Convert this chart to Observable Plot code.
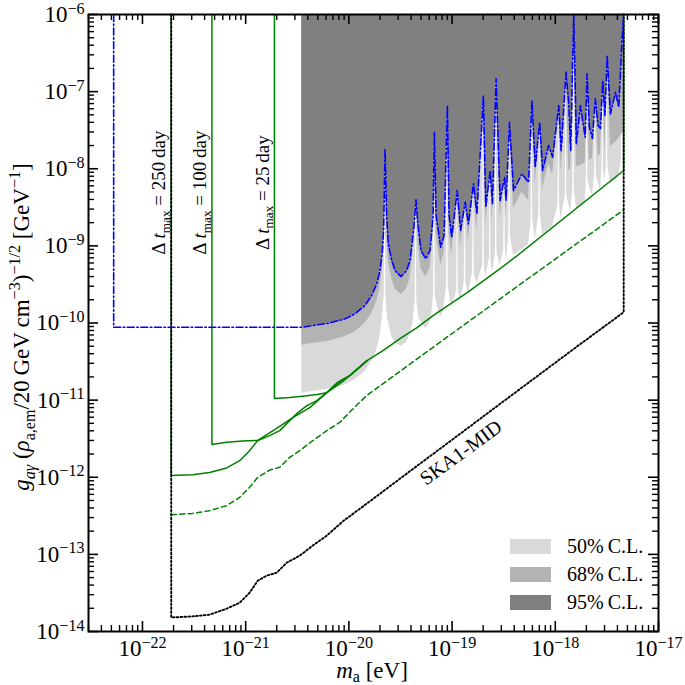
<!DOCTYPE html>
<html>
<head>
<meta charset="utf-8">
<script src="https://cdn.jsdelivr.net/npm/d3@7"></script>
<script src="https://cdn.jsdelivr.net/npm/@observablehq/plot@0.6"></script>
<style>
html, body { margin: 0; padding: 0; background: #fff; }
#chart svg { display: block; }
</style>
</head>
<body>
<div id="chart"></div>
<script>
// ---------------- data ----------------
const xTicks = [1e-22, 1e-21, 1e-20, 1e-19, 1e-18, 1e-17];
const xDecades = [1e-23, 1e-22, 1e-21, 1e-20, 1e-19, 1e-18];
const yTicks = [1e-14, 1e-13, 1e-12, 1e-11, 1e-10, 1e-9, 1e-8, 1e-7, 1e-6];
const minorMultipliers = [2, 3, 4, 5, 6, 7, 8, 9];
const gTop = 1e-6;

// blue dash-dot (95% C.L. boundary), leading vertical + horizontal part
const blueLeadMass = [5.26e-23, 5.26e-23];
const blueLeadG = [1e-6, 8.79e-11];

// 95% / 68% lower boundaries on shared masses
const bandMass = [3.50e-21, 4.35e-21, 6.30e-21, 9.14e-21, 1.14e-20, 1.43e-20, 1.66e-20, 1.86e-20, 2.00e-20, 2.10e-20,
  2.17e-20, 2.20e-20, 2.24e-20, 2.32e-20, 2.41e-20, 2.60e-20, 2.80e-20, 3.20e-20, 3.63e-20, 3.91e-20,
  4.28e-20, 4.47e-20, 4.68e-20, 5.00e-20, 5.56e-20, 6.11e-20, 6.55e-20, 6.73e-20, 7.00e-20, 7.76e-20,
  8.36e-20, 9.00e-20, 9.35e-20, 9.93e-20, 1.12e-19, 1.21e-19, 1.34e-19, 1.44e-19, 1.61e-19, 1.74e-19,
  2.01e-19, 2.12e-19, 2.34e-19, 2.46e-19, 2.67e-19, 2.92e-19, 3.22e-19, 3.34e-19, 3.60e-19, 3.94e-19,
  4.75e-19, 5.51e-19, 5.94e-19, 6.40e-19, 7.05e-19, 7.54e-19, 8.61e-19, 9.42e-19, 1.08e-18, 1.14e-18,
  1.27e-18, 1.35e-18, 1.41e-18, 1.51e-18, 1.60e-18, 1.75e-18, 1.95e-18, 2.03e-18, 2.14e-18, 2.29e-18,
  2.44e-18, 2.60e-18, 2.74e-18, 2.88e-18, 3.03e-18, 3.18e-18, 3.42e-18, 3.83e-18, 4.12e-18, 4.45e-18,
  4.60e-18];
const g95 = [8.79e-11, 9.25e-11, 9.91e-11, 1.13e-10, 1.31e-10, 1.68e-10, 2.27e-10, 3.21e-10, 4.79e-10, 7.87e-10,
  1.58e-9, 4.27e-9, 1.81e-8, 2.60e-9, 1.06e-9, 6.44e-10, 4.79e-10, 4.00e-10, 4.79e-10, 6.44e-10,
  1.83e-9, 3.95e-9, 1.83e-9, 8.69e-10, 6.78e-10, 8.69e-10, 2.47e-9, 2.97e-8, 2.47e-9, 9.59e-10,
  1.36e-9, 6.61e-8, 2.47e-9, 1.29e-9, 5.21e-9, 1.58e-9, 3.68e-9, 1.93e-9, 6.37e-9, 2.60e-9,
  8.89e-8, 3.17e-9, 9.48e-9, 3.51e-9, 1.47e-7, 3.87e-9, 7.76e-9, 3.87e-9, 4.01e-8, 5.21e-9,
  8.59e-9, 6.68e-9, 7.67e-8, 1.04e-8, 4.01e-8, 9.48e-9, 2.00e-8, 1.41e-8, 6.61e-8, 1.72e-8,
  1.79e-7, 6.95e-8, 1.72e-8, 1e-6, 2.10e-8, 6.61e-8, 2.56e-8, 1.70e-7, 3.45e-8, 2.47e-8,
  8.07e-8, 3.63e-8, 3.32e-8, 1.39e-7, 4.90e-8, 2.94e-7, 5.15e-8, 9.82e-8, 6.28e-8, 5.08e-7,
  1e-6];
const g68 = [5.14e-11, 5.41e-11, 5.79e-11, 6.61e-11, 7.67e-11, 9.82e-11, 1.32e-10, 1.88e-10, 2.79e-10, 4.60e-10,
  9.23e-10, 2.49e-9, 1.81e-8, 1.52e-9, 6.19e-10, 3.77e-10, 2.79e-10, 2.34e-10, 2.79e-10, 3.77e-10,
  1.07e-9, 3.95e-9, 1.07e-9, 5.08e-10, 3.96e-10, 5.08e-10, 1.44e-9, 2.97e-8, 1.44e-9, 5.60e-10,
  7.94e-10, 6.61e-8, 1.44e-9, 7.55e-10, 5.21e-9, 9.23e-10, 3.68e-9, 1.13e-9, 6.37e-9, 1.52e-9,
  8.89e-8, 1.85e-9, 9.48e-9, 2.05e-9, 1.47e-7, 2.26e-9, 7.76e-9, 2.26e-9, 4.01e-8, 3.05e-9,
  5.01e-9, 3.90e-9, 7.67e-8, 6.11e-9, 4.01e-8, 5.53e-9, 1.17e-8, 8.24e-9, 6.61e-8, 8.41e-9,
  1.79e-7, 9.48e-9, 9.77e-9, 1e-6, 1.07e-8, 1.10e-8, 1.20e-8, 1.70e-7, 1.28e-8, 1.36e-8,
  8.07e-8, 1.44e-8, 1.53e-8, 1.39e-7, 1.67e-8, 2.94e-7, 1.94e-8, 2.19e-8, 2.47e-8, 2.86e-8,
  3.04e-8];

// 50% lower boundary (own masses, narrow resonance spikes)
const light50Mass = [3.50e-21, 4.35e-21, 6.30e-21, 9.14e-21, 1.14e-20, 1.43e-20, 1.66e-20, 1.86e-20, 2.00e-20, 2.10e-20,
  2.198e-20, 2.24e-20, 2.28e-20, 2.37e-20, 2.60e-20, 2.80e-20, 3.20e-20, 3.63e-20, 3.91e-20, 4.18e-20,
  4.39e-20, 4.47e-20, 4.55e-20, 4.78e-20, 5.56e-20, 6.25e-20, 6.61e-20, 6.73e-20, 6.86e-20, 7.23e-20,
  7.76e-20, 8.27e-20, 8.84e-20, 9.00e-20, 9.17e-20, 9.93e-20, 1.11e-19, 1.12e-19, 1.15e-19, 1.21e-19,
  1.31e-19, 1.34e-19, 1.36e-19, 1.44e-19, 1.58e-19, 1.61e-19, 1.64e-19, 1.74e-19, 1.98e-19, 2.01e-19,
  2.05e-19, 2.12e-19, 2.30e-19, 2.34e-19, 2.38e-19, 2.46e-19, 2.63e-19, 2.67e-19, 2.72e-19, 2.92e-19,
  3.16e-19, 3.22e-19, 3.28e-19, 3.38e-19, 3.54e-19, 3.60e-19, 3.67e-19, 3.94e-19, 4.75e-19, 5.51e-19,
  5.83e-19, 5.94e-19, 6.05e-19, 6.40e-19, 6.92e-19, 7.05e-19, 7.17e-19, 7.54e-19, 9.42e-19, 1.06e-18,
  1.08e-18, 1.10e-18, 1.14e-18, 1.25e-18, 1.27e-18, 1.29e-18, 1.41e-18, 1.48e-18, 1.51e-18, 1.53e-18,
  1.60e-18, 1.95e-18, 2.00e-18, 2.03e-18, 2.07e-18, 2.29e-18, 2.40e-18, 2.44e-18, 2.49e-18, 2.74e-18,
  2.83e-18, 2.88e-18, 2.93e-18, 3.02e-18, 3.12e-18, 3.18e-18, 3.23e-18, 3.42e-18, 4.12e-18, 4.36e-18,
  4.45e-18, 4.52e-18, 4.60e-18];
const light50G = [1.22e-11, 1.29e-11, 1.38e-11, 1.57e-11, 1.83e-11, 2.34e-11, 3.15e-11, 4.48e-11, 6.67e-11, 1.10e-10,
  2.27e-10, 1.81e-8, 2.27e-10, 1.14e-10, 6.67e-11, 5.57e-11, 4.94e-11, 5.57e-11, 7.08e-11, 1.01e-10,
  1.95e-10, 3.95e-9, 1.95e-10, 1.14e-10, 8.38e-11, 1.07e-10, 2.27e-10, 2.97e-8, 2.27e-10, 1.63e-10,
  1.19e-10, 1.45e-10, 3.05e-10, 6.61e-8, 3.05e-10, 1.60e-10, 2.63e-10, 5.21e-9, 2.63e-10, 1.95e-10,
  3.34e-10, 3.68e-9, 3.34e-10, 2.38e-10, 4.51e-10, 6.37e-9, 4.51e-10, 3.21e-10, 5.55e-10, 8.89e-8,
  5.55e-10, 3.92e-10, 6.84e-10, 9.48e-9, 6.84e-10, 4.34e-10, 8.18e-10, 1.47e-7, 8.18e-10, 5.55e-10,
  8.69e-10, 7.76e-9, 8.69e-10, 6.64e-10, 1.36e-9, 4.01e-8, 1.36e-9, 7.48e-10, 8.95e-10, 1.04e-9,
  2.13e-9, 7.67e-8, 2.13e-9, 1.21e-9, 2.47e-9, 4.01e-8, 2.47e-9, 1.40e-9, 1.78e-9, 3.33e-9,
  6.61e-8, 3.33e-9, 2.19e-9, 4.49e-9, 1.79e-7, 4.49e-9, 2.70e-9, 5.21e-9, 1e-6, 5.21e-9,
  3.05e-9, 3.76e-9, 7.03e-9, 1.70e-7, 7.03e-9, 4.36e-9, 8.17e-9, 8.07e-8, 8.17e-9, 5.21e-9,
  9.48e-9, 1.39e-7, 9.48e-9, 6.62e-9, 1.10e-8, 2.94e-7, 1.10e-8, 6.43e-9, 7.69e-9, 1.28e-8,
  5.08e-7, 1.28e-8, 8.67e-9];

// SKA1-MID (black dotted)
const skaMass = [1.90e-22, 1.90e-22, 3.05e-22, 4.47e-22, 6.55e-22, 8.75e-22, 1.09e-21, 1.31e-21, 1.60e-21, 2.00e-21,
  2.50e-21, 3.34e-21, 4.47e-21, 6.10e-21, 8.75e-21, 1.87e-20, 3.91e-20, 1.03e-19, 2.92e-19, 1.51e-18, 4.60e-18, 4.60e-18];
const skaG = [1e-6, 1.52e-14, 1.57e-14, 1.65e-14, 1.98e-14, 2.36e-14, 3.18e-14, 4.56e-14, 5.30e-14, 5.79e-14,
  7.80e-14, 9.62e-14, 1.30e-13, 1.75e-13, 2.68e-13, 5.71e-13, 1.20e-12, 3.15e-12, 8.95e-12, 4.61e-11, 1.38e-10, 1e-6];

// green solid, Δt_max = 250 day
const green250Mass = [1.90e-22, 1.90e-22, 3.05e-22, 4.47e-22, 6.55e-22, 8.75e-22, 1.09e-21, 1.31e-21, 1.71e-21, 2.14e-21,
  2.67e-21, 3.13e-21, 3.91e-21, 4.89e-21, 6.11e-21, 8.18e-21, 1.02e-20, 1.50e-20, 2.14e-20, 3.13e-20,
  4.57e-20, 6.54e-20, 1.40e-19, 2.92e-19, 4.28e-19, 4.60e-18, 4.60e-18];
const green250G = [1e-6, 1.05e-12, 1.08e-12, 1.15e-12, 1.32e-12, 1.64e-12, 2.21e-12, 3.00e-12, 3.47e-12, 4.02e-12,
  5.42e-12, 6.68e-12, 8.49e-12, 9.86e-12, 1.25e-11, 1.64e-11, 2.08e-11, 3.25e-11, 4.39e-11, 6.28e-11,
  8.72e-11, 1.25e-10, 2.48e-10, 5.08e-10, 7.48e-10, 9.48e-9, 1e-6];

// green solid, Δt_max = 100 day
const green100Mass = [4.71e-22, 4.71e-22, 6.55e-22, 9.35e-22, 1.31e-21, 1.91e-21, 2.86e-21, 4.18e-21, 6.11e-21, 7.82e-21, 1.02e-20, 1.50e-20];
const green100G = [1e-6, 2.65e-12, 2.84e-12, 2.96e-12, 3.00e-12, 4.14e-12, 5.93e-12, 8.00e-12, 1.25e-11, 1.71e-11, 2.08e-11, 3.25e-11];

// green solid, Δt_max = 25 day
const green25Mass = [1.90e-21, 1.90e-21, 2.67e-21, 3.74e-21, 4.89e-21, 6.11e-21, 7.31e-21, 8.75e-21, 1.02e-20, 1.50e-20];
const green25G = [1e-6, 1.05e-11, 1.08e-11, 1.13e-11, 1.18e-11, 1.25e-11, 1.54e-11, 1.85e-11, 2.08e-11, 3.25e-11];

// green dashed
const greenDashedMass = [1.90e-22, 3.05e-22, 4.47e-22, 6.55e-22, 8.75e-22, 1.09e-21, 1.31e-21, 1.71e-21, 2.14e-21, 2.67e-21,
  3.34e-21, 4.47e-21, 6.11e-21, 8.18e-21, 1.02e-20, 1.48e-20, 6.54e-20, 2.92e-19, 1.30e-18, 4.60e-18];
const greenDashedG = [3.27e-13, 3.40e-13, 3.69e-13, 4.29e-13, 5.49e-13, 7.39e-13, 9.98e-13, 1.24e-12, 1.35e-12, 1.81e-12,
  2.21e-12, 2.98e-12, 4.02e-12, 5.15e-12, 7.00e-12, 1.14e-11, 4.84e-11, 2.06e-10, 8.69e-10, 2.93e-9];

// annotations
const tLabels = ["Δ t_max = 250 day", "Δ t_max = 100 day", "Δ t_max = 25 day"];
const tLabelMass = [1.90e-22, 4.71e-22, 1.90e-21];
const tLabelG = [4.91e-9, 4.91e-9, 4.91e-9];
const skaLabel = "SKA1-MID";
const skaLabelMass = 1.22e-19;
const skaLabelG = 2.08e-12;

const legendLabels = ["50%\u2009C.L.", "68%\u2009C.L.", "95%\u2009C.L."];
const bandColors = ["#d9d9d9", "#b3b3b3", "#808080"];

// ---------------- tables ----------------
const rows = (ms, gs) => ms.map((m, i) => ({m, g: gs[i]}));
const band = bandMass.map((m, i) => ({m, g95: g95[i], g68: g68[i]}));
const light = rows(light50Mass, light50G);
const blueRows = rows(blueLeadMass, blueLeadG).concat(rows(bandMass, g95));
const xMinor = xDecades.flatMap(d => minorMultipliers.map(k => k * d)).filter(v => v >= 3e-23 && v <= 1e-17);
const yDecades = yTicks.slice(0, -1);
const yMinor = yDecades.flatMap(d => minorMultipliers.map(k => k * d));
const tLabelRows = tLabels.map((t, i) => ({t, m: tLabelMass[i], g: tLabelG[i]}));

const W = 685, H = 685, mL = 88, mR = 27, mT = 14, mB = 54;
const innerW = W - mL - mR, innerH = H - mT - mB;
const green = "#008000";
const serif = "'Liberation Serif', 'DejaVu Serif', serif";
const expFmt = d => "10^" + Math.round(Math.log10(d));

const plot = Plot.plot({
  width: W, height: H,
  marginLeft: mL, marginRight: mR, marginTop: mT, marginBottom: mB,
  style: {fontFamily: serif, fontSize: "23px", background: "white", color: "black"},
  x: {type: "log", domain: [3e-23, 1e-17], ticks: xTicks, tickSize: 0, tickPadding: 8, tickFormat: expFmt, label: null},
  y: {type: "log", domain: [1e-14, 1e-6], ticks: yTicks, tickSize: 0, tickPadding: 4, tickFormat: expFmt, label: null},
  marks: [
    Plot.areaY(light, {x: "m", y1: "g", y2: () => gTop, fill: bandColors[0]}),
    Plot.areaY(band, {x: "m", y1: "g68", y2: () => gTop, fill: bandColors[1]}),
    Plot.areaY(band, {x: "m", y1: "g95", y2: () => gTop, fill: bandColors[2]}),
    Plot.line(rows(greenDashedMass, greenDashedG), {x: "m", y: "g", stroke: green, strokeWidth: 1.5, strokeDasharray: "5,3.5"}),
    Plot.line(rows(green25Mass, green25G), {x: "m", y: "g", stroke: green, strokeWidth: 1.5}),
    Plot.line(rows(green100Mass, green100G), {x: "m", y: "g", stroke: green, strokeWidth: 1.5}),
    Plot.line(rows(green250Mass, green250G), {x: "m", y: "g", stroke: green, strokeWidth: 1.5}),
    Plot.line(rows(skaMass, skaG), {x: "m", y: "g", stroke: "black", strokeWidth: 1.9, strokeDasharray: "1.7,2.2"}),
    Plot.line(blueRows, {x: "m", y: "g", stroke: "#0000ff", strokeWidth: 1.6, strokeDasharray: "7,2.5,1.6,2.5"}),
    Plot.text(tLabelRows, {x: "m", y: "g", text: "t", rotate: -90, dx: -12, fontSize: 19, fontFamily: serif, fill: "black"}),
    Plot.text([skaLabel], {x: () => skaLabelMass, y: () => skaLabelG, text: d => d, rotate: -36, fontSize: 20, fontFamily: serif, fill: "black"}),
    // inward ticks on all four sides
    Plot.tickX(xTicks, {x: d => d, insetTop: innerH - 10, strokeWidth: 1.6}),
    Plot.tickX(xTicks, {x: d => d, insetBottom: innerH - 10, strokeWidth: 1.6}),
    Plot.tickX(xMinor, {x: d => d, insetTop: innerH - 6, strokeWidth: 1.4}),
    Plot.tickX(xMinor, {x: d => d, insetBottom: innerH - 6, strokeWidth: 1.4}),
    Plot.tickY(yTicks, {y: d => d, insetRight: innerW - 10, strokeWidth: 1.6}),
    Plot.tickY(yTicks, {y: d => d, insetLeft: innerW - 10, strokeWidth: 1.6}),
    Plot.tickY(yMinor, {y: d => d, insetRight: innerW - 6, strokeWidth: 1.4}),
    Plot.tickY(yMinor, {y: d => d, insetLeft: innerW - 6, strokeWidth: 1.4}),
    Plot.frame({stroke: "black", strokeWidth: 2})
  ]
});

// ---------------- rich text helpers ----------------
function richText(sel, parts, base, supK = 0.38, subK = 0.25) {
  sel.text(null);
  let cur = 0;
  for (const p of parts) {
    const target = p.sup ? -supK * base : p.sub ? subK * base : 0;
    const ts = sel.append("tspan").text(p.t);
    if (target !== cur) ts.attr("dy", target - cur);
    if (p.sup || p.sub) ts.attr("font-size", (base * 0.7) + "px");
    if (p.italic) ts.attr("font-style", "italic");
    cur = target;
  }
}

const svg = d3.select(plot);
svg.selectAll("text").each(function () {
  const t = this.textContent;
  let mm = /^10\^(-?\d+)$/.exec(t);
  if (mm) { richText(d3.select(this), [{t: "10"}, {t: mm[1].replace("-", "\u2212"), sup: true}], 23, 0.36); return; }
  mm = /^Δ t_max = (.+)$/.exec(t);
  if (mm) richText(d3.select(this), [{t: "Δ\u2009"}, {t: "t", italic: true}, {t: "max", sub: true}, {t: " = " + mm[1].replace(" ", "\u2009")}], 19);
});

// legend (inside plot, lower right)
const lg = svg.append("g").attr("font-family", serif).attr("font-size", "20px").attr("text-anchor", "start");
legendLabels.forEach((lab, i) => {
  const y0 = 539 + i * 28;
  lg.append("rect").attr("x", 510).attr("y", y0).attr("width", 41).attr("height", 15).attr("fill", bandColors[i]);
  lg.append("text").attr("x", 567).attr("y", y0 + 14).attr("text-anchor", "start").text(lab);
});

// axis titles
const xl = svg.append("text").attr("x", 372).attr("y", 678).attr("text-anchor", "middle")
  .attr("font-family", serif).attr("font-size", "23px");
richText(xl, [{t: "m", italic: true}, {t: "a", sub: true}, {t: " [eV]"}], 23, 0.38, 0.16);

const yl = svg.append("text").attr("transform", "translate(29,327) rotate(-90)").attr("text-anchor", "middle")
  .attr("font-family", serif).attr("font-size", "23px");
richText(yl, [
  {t: "g", italic: true}, {t: "aγ", sub: true, italic: true}, {t: " ("}, {t: "ρ", italic: true}, {t: "a,em", sub: true},
  {t: "/20\u2009GeV\u2009cm"}, {t: "\u22123", sup: true}, {t: ")"}, {t: "\u22121/2", sup: true},
  {t: " [GeV"}, {t: "\u22121", sup: true}, {t: "]"}
], 23);

document.getElementById("chart").append(plot);
</script>
</body>
</html>
